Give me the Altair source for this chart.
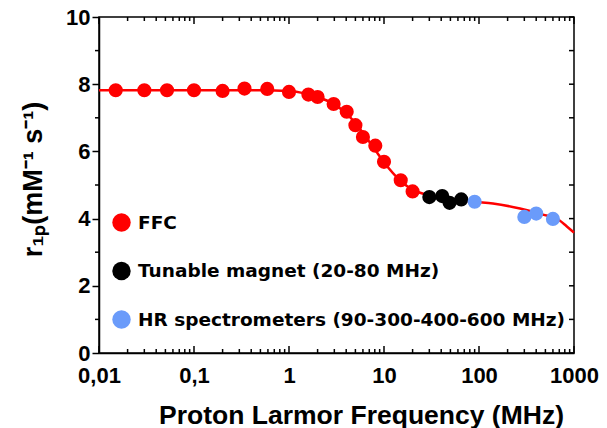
import altair as alt
import pandas as pd

# ---------------- data ----------------
ffc_freq = [0.015, 0.03, 0.052, 0.1, 0.2, 0.34, 0.59, 1.0, 1.6, 2.0, 2.95, 4.05, 5.0, 6.0, 8.1, 10.0, 15.0, 20.0]
ffc_r1 = [7.82, 7.82, 7.82, 7.82, 7.80, 7.87, 7.86, 7.77, 7.69, 7.62, 7.41, 7.18, 6.78, 6.43, 6.17, 5.69, 5.14, 4.81]

tun_freq = [30.0, 41.0, 49.0, 65.0]
tun_r1 = [4.64, 4.67, 4.47, 4.57]

hr_freq = [90.0, 300.0, 400.0, 600.0]
hr_r1 = [4.50, 4.05, 4.15, 3.99]

fit_freq = [0.01, 0.1, 0.5, 1.0, 1.5, 2.0, 3.0, 4.0, 5.0, 6.0, 8.0, 10.0, 15.0, 20.0, 30.0, 40.0, 60.0, 90.0, 140.0, 270.0, 470.0, 700.0, 830.0, 1000.0]
fit_r1 = [7.82, 7.82, 7.82, 7.80, 7.72, 7.62, 7.40, 7.13, 6.84, 6.55, 6.06, 5.68, 5.12, 4.86, 4.69, 4.62, 4.56, 4.50, 4.45, 4.30, 4.12, 3.95, 3.78, 3.58]

groups = ["FFC", "Tunable magnet (20-80 MHz)", "HR spectrometers (90-300-400-600 MHz)"]
group_colors = ["#FF0000", "#000000", "#6A9BFA"]

x_major = [0.01, 0.1, 1, 10, 100, 1000]
x_minor = [m * d for d in [0.01, 0.1, 1, 10, 100] for m in range(2, 10)]
y_major = [0, 2, 4, 6, 8, 10]
y_minor = [1, 3, 5, 7, 9]
y_all = list(range(0, 11))

# ---------------- tables ----------------
pts = pd.DataFrame({
    "freq": ffc_freq + tun_freq + hr_freq,
    "r1": ffc_r1 + tun_r1 + hr_r1,
    "grp": [groups[0]] * len(ffc_freq) + [groups[1]] * len(tun_freq) + [groups[2]] * len(hr_freq),
})
fit = pd.DataFrame({"freq": fit_freq, "r1": fit_r1})
xmaj_df = pd.DataFrame({"freq": x_major})
xmin_df = pd.DataFrame({"freq": x_minor})
ymin_df = pd.DataFrame({"r1": y_minor})
yall_df = pd.DataFrame({"r1": y_all})

W, H = 475, 336
FONT = "Liberation Sans"
MAJ, MIN, TW = 7, 4, 1.5
TICKCOL = "black"

xscale = alt.Scale(type="log", domain=[0.01, 1000], nice=False)
yscale = alt.Scale(domain=[0, 10], nice=False, zero=False)

# fitted curve with the main axes
line = alt.Chart(fit).mark_line(color="#FF0000", strokeWidth=2.5, interpolate="monotone").encode(
    x=alt.X("freq:Q", scale=xscale, axis=alt.Axis(
        orient="bottom", values=x_major, ticks=False, tickSize=0, grid=False,
        labelExpr="replace(format(datum.value, '~g'), '.', ',')",
        labelFont=FONT, labelFontSize=22, labelFontWeight="bold", labelColor="black",
        labelPadding=12, labelFlush=False, labelOverlap=False,
        domainColor="black", domainWidth=1.5,
        title="Proton Larmor Frequency (MHz)", titleFont=FONT, titleFontSize=26.5,
        titleFontWeight="bold", titleColor="black", titleX=262, titleY=70,
        titleAlign="center", titleBaseline="alphabetic")),
    y=alt.Y("r1:Q", scale=yscale, axis=alt.Axis(
        orient="left", values=y_major, ticks=True, tickSize=MAJ, tickColor=TICKCOL, tickWidth=TW,
        grid=False,
        labelFont=FONT, labelFontSize=22, labelFontWeight="bold", labelColor="black",
        labelPadding=2, labelFlush=False,
        domainColor="black", domainWidth=1.5,
        title="r₁ₚ(mM⁻¹ s⁻¹)", titleFont=FONT, titleFontSize=27, titleFontWeight="bold",
        titleColor="black", titleAngle=-90, titleX=-58, titleY=162,
        titleAlign="center", titleBaseline="alphabetic")),
)

points = alt.Chart(pts).mark_circle(size=200, opacity=1).encode(
    x=alt.X("freq:Q", scale=xscale),
    y=alt.Y("r1:Q", scale=yscale),
    color=alt.Color("grp:N", scale=alt.Scale(domain=groups, range=group_colors),
                    sort=groups, legend=alt.Legend(title=None)),
)

# frame ticks: inward on bottom, top and right; outward minor ticks on the left
def xticks(df, length, at_top):
    y0, y1 = (0, length) if at_top else (H, H - length)
    return alt.Chart(df).mark_rule(color=TICKCOL, strokeWidth=TW, opacity=1).encode(
        x=alt.X("freq:Q", scale=xscale), y=alt.value(y0), y2=alt.value(y1))

def yticks(df, x0, x1):
    return alt.Chart(df).mark_rule(color=TICKCOL, strokeWidth=TW, opacity=1).encode(
        y=alt.Y("r1:Q", scale=yscale), x=alt.value(x0), x2=alt.value(x1))

frame_ticks = [
    xticks(xmaj_df, MAJ, False), xticks(xmin_df, MIN, False),
    xticks(xmaj_df, MAJ, True), xticks(xmin_df, MIN, True),
    yticks(yall_df, W, W - 5),
    yticks(ymin_df, 0, -MIN),
]

chart = alt.layer(line, points, *frame_ticks).properties(
    width=W, height=H,
    autosize=alt.AutoSizeParams(type="none"),
    padding={"left": 91, "top": 9, "right": 25, "bottom": 75},
).configure_view(stroke="black", strokeWidth=1.5).configure_legend(
    orient="none", legendX=13, legendY=196, padding=0,
    symbolType="circle", symbolSize=340, symbolStrokeWidth=0, symbolOpacity=1,
    labelFont="DejaVu Sans", labelFontSize=18.5, labelFontWeight="bold", labelColor="black",
    labelOffset=7, rowPadding=29.5, labelLimit=600,
)

chart.save("out.html", embed_options={"renderer": "svg", "actions": False})
